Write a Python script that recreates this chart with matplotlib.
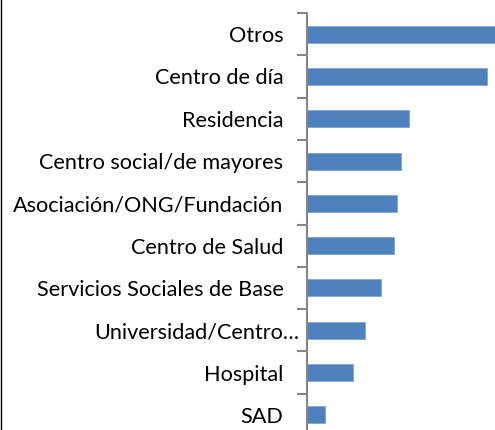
import matplotlib
matplotlib.use("Agg")
import matplotlib.pyplot as plt
from matplotlib.lines import Line2D

categories = ["Otros", "Centro de día", "Residencia", "Centro social/de mayores",
              "Asociación/ONG/Fundación", "Centro de Salud", "Servicios Sociales de Base",
              "Universidad/Centro…", "Hospital", "SAD"]
values = [195, 180, 102, 94, 90, 87, 74, 58, 46, 18]

plt.rcParams['font.family'] = ['Lato', 'DejaVu Sans']

fig = plt.figure(figsize=(4.95, 4.30), dpi=100)
W, H = 495, 430
ax = fig.add_axes([307 / W, 1 - 436 / H, (W - 307) / W, 423 / H])

pos = list(range(len(categories)))
ax.barh(pos, values, height=0.40, color="#4F81BD", edgecolor="#7FA3D0", linewidth=0.6)
ax.set_ylim(len(categories) - 0.5, -0.5)
ax.set_xlim(0, 188)

# truncated label sits closer to the axis in the reference
trunc_idx = 7
labels = [c if i != trunc_idx else "" for i, c in enumerate(categories)]
ax.set_yticks(pos)
ax.set_yticklabels(labels, fontsize=15.6, color="black")
ax.annotate(categories[trunc_idx], xy=(0, pos[trunc_idx]), xycoords=ax.get_yaxis_transform(),
            xytext=(-8, 0), textcoords="offset pixels", ha="right", va="center_baseline",
            fontsize=15.6, color="black")
ax.tick_params(axis="y", which="major", length=0, pad=17)
ax.set_yticks([p - 0.5 for p in range(len(categories) + 1)], minor=True)
ax.tick_params(axis="y", which="minor", length=7, width=1.5, color="#868686", direction="out")
ax.tick_params(axis="x", bottom=False, labelbottom=False)

for s in ["top", "right", "bottom"]:
    ax.spines[s].set_visible(False)
ax.spines["left"].set_color("#868686")
ax.spines["left"].set_linewidth(1.5)

fig.add_artist(Line2D([0.5 / W, 0.5 / W], [0, 1], color="black", linewidth=1.0,
                      transform=fig.transFigure))

fig.savefig("out.png", dpi=100)
